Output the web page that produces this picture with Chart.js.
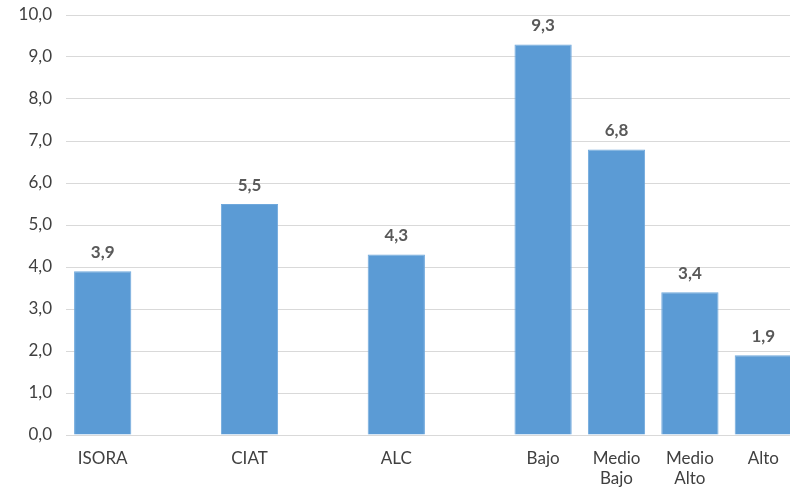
<!DOCTYPE html>
<html>
<head>
<meta charset="utf-8">
<script src="https://cdn.jsdelivr.net/npm/chart.js@4"></script>
<style>
  html, body { margin: 0; padding: 0; background: #fff; overflow: hidden; }
  #wrap { width: 800px; height: 489px; }
</style>
</head>
<body>
<div id="wrap"><canvas id="chart" width="800" height="489"></canvas></div>
<script>
// categories (blank ones are the gaps between groups)
const categories = ["ISORA", "", "CIAT", "", "ALC", "", "Bajo", ["Medio", "Bajo"], ["Medio", "Alto"], "Alto"];
const values = [3.9, null, 5.5, null, 4.3, null, 9.3, 6.8, 3.4, 1.9];
const yMin = 0;
const yMax = 10;
const yStep = 1;

const fmt = (v) => v.toFixed(1).replace(".", ",");

const valueLabels = {
  id: "valueLabels",
  afterDatasetsDraw(chart) {
    const ctx = chart.ctx;
    const meta = chart.getDatasetMeta(0);
    ctx.save();
    ctx.font = "bold 17px Lato";
    ctx.fillStyle = "#595959";
    ctx.textAlign = "center";
    ctx.textBaseline = "bottom";
    meta.data.forEach((bar, i) => {
      if (values[i] == null) return;
      ctx.fillText(fmt(values[i]), bar.x, bar.y - 10);
    });
    ctx.restore();
  },
};

new Chart(document.getElementById("chart"), {
  type: "bar",
  data: {
    labels: categories,
    datasets: [
      {
        data: values,
        backgroundColor: "#5b9bd5",
        borderColor: "#6fa8dc",
        borderWidth: 1,
        barPercentage: 0.78,
        categoryPercentage: 1,
      },
    ],
  },
  options: {
    responsive: false,
    animation: false,
    layout: { padding: { top: 15, right: 0, left: 0, bottom: 0 } },
    plugins: { legend: { display: false }, tooltip: { enabled: false } },
    scales: {
      x: {
        grid: { display: false },
        border: { color: "#d9d9d9" },
        ticks: { color: "#404040", font: { family: "Lato", size: 17 }, padding: 5, maxRotation: 0, autoSkip: false },
        afterFit: (s) => { s.height = 54; s.paddingLeft = 0; s.paddingRight = 0; },
      },
      y: {
        min: yMin,
        max: yMax,
        ticks: { stepSize: yStep, color: "#404040", font: { family: "Lato", size: 17 }, padding: 14, callback: (v) => fmt(v) },
        grid: { color: "#d9d9d9", drawTicks: false },
        border: { display: false },
        afterFit: (s) => { s.width = 66; s.paddingTop = 0; s.paddingBottom = 0; },
      },
    },
  },
  plugins: [valueLabels],
});
</script>
</body>
</html>
